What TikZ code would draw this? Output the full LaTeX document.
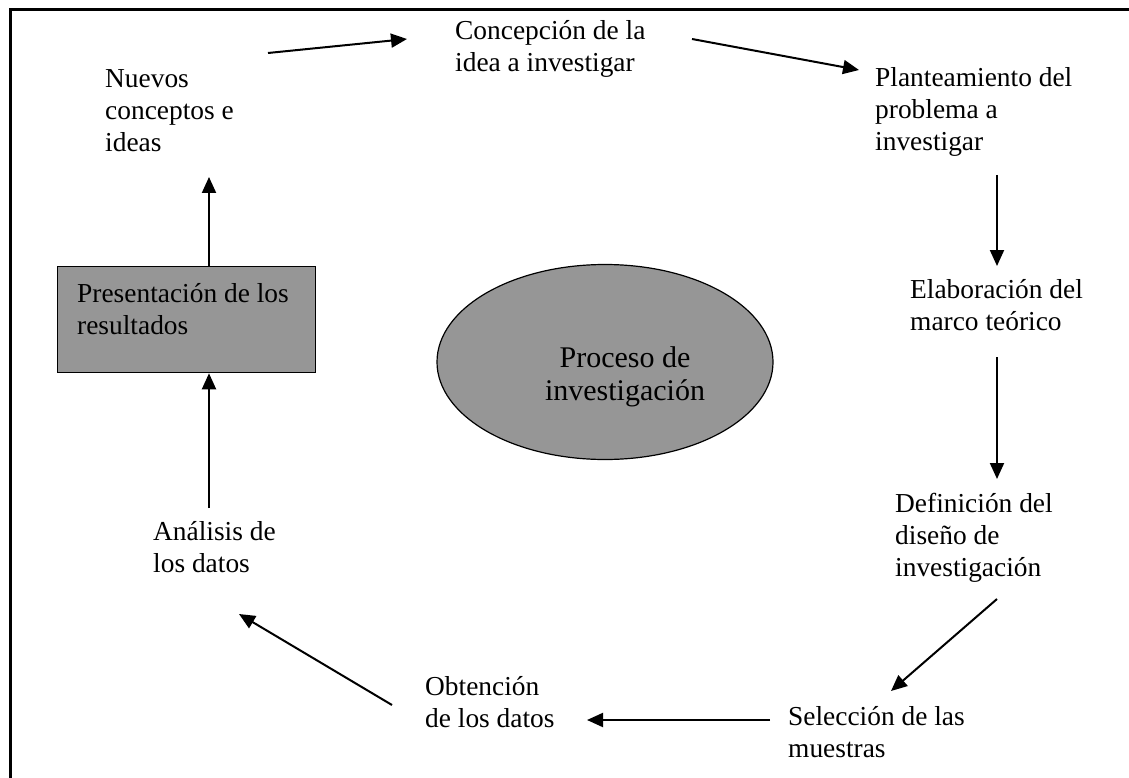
\documentclass[tikz,border=0pt]{standalone}
\usepackage{fontspec}
\setmainfont{Liberation Serif}
\usetikzlibrary{arrows.meta,shapes.geometric}
\definecolor{grisfondo}{RGB}{150,150,150}

\begin{document}
\begin{tikzpicture}[x=1pt,y=-1pt,
    every node/.style={font=\fontsize{27.4}{32}\selectfont},
    etapa/.style={anchor=base west,align=left,inner sep=0pt},
    caja/.style={draw,line width=1.3pt,fill=grisfondo,anchor=north west,minimum width=258pt,minimum height=106pt,inner sep=0pt},
    nucleo/.style={ellipse,draw,line width=1.2pt,fill=grisfondo,minimum width=336pt,minimum height=195pt,inner sep=0pt},
    flecha/.style={line width=2pt,-{Triangle[length=16pt,width=14pt]}}]
    \useasboundingbox (0,0) rectangle (1129,778);
    \draw[line width=3pt] (1129,10) -- (10,10) -- (10,778);
    \node[nucleo] (proceso) at (605,362) {};
    \node[anchor=base,align=center,inner sep=0pt,font=\fontsize{30}{33}\selectfont] (procesoTexto) at (625,400) {Proceso de\\investigación};
    \node[caja] (pres) at (57,266) {};
    \node[etapa] (presTexto) at (77,334) {Presentación de los\\resultados};
    \node[etapa] (nuevos) at (105,152) {Nuevos\\conceptos e\\ideas};
    \node[etapa] (concepcion) at (455,72) {Concepción de la\\idea a investigar};
    \node[etapa] (planteamiento) at (875,151) {Planteamiento del\\problema a\\investigar};
    \node[etapa] (elaboracion) at (910,330) {Elaboración del\\marco teórico};
    \node[etapa] (definicion) at (895,576) {Definición del\\diseño de\\investigación};
    \node[etapa] (seleccion) at (788,757) {Selección de las\\muestras};
    \node[etapa] (obtencion) at (425,727) {Obtención\\de los datos};
    \node[etapa] (analisis) at (153,572) {Análisis de\\los datos};
    \coordinate (n1) at (268,53);
    \coordinate (c1) at (407,39);
    \coordinate (c2) at (692,39);
    \coordinate (p1) at (859,70);
    \coordinate (p2) at (997,175);
    \coordinate (e1) at (997,266);
    \coordinate (e2) at (997,357);
    \coordinate (d1) at (997,479);
    \coordinate (d2) at (997,599);
    \coordinate (s1) at (891,691);
    \coordinate (s2) at (770,720);
    \coordinate (o1) at (587,720);
    \coordinate (o2) at (392,705);
    \coordinate (a1) at (239,614);
    \coordinate (a2) at (209,508);
    \coordinate (n0) at (209,177);
    \draw[flecha] (n1) -- (c1);
    \draw[flecha] (c2) -- (p1);
    \draw[flecha] (p2) -- (e1);
    \draw[flecha] (e2) -- (d1);
    \draw[flecha] (d2) -- (s1);
    \draw[flecha] (s2) -- (o1);
    \draw[flecha] (o2) -- (a1);
    \draw[flecha] (a2) -- (a2 |- pres.south);
    \draw[flecha] (a2 |- pres.north) -- (n0);
\end{tikzpicture}
\end{document}
